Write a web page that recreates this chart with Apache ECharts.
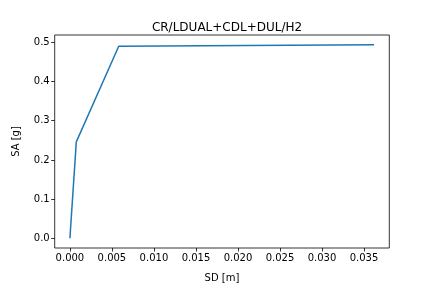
<!DOCTYPE html>
<html>
<head>
<meta charset="utf-8">
<script src="https://cdn.jsdelivr.net/npm/echarts@6/dist/echarts.min.js"></script>
<style>html,body{margin:0;padding:0;background:#fff}#c{width:432px;height:288px}</style>
</head>
<body>
<div id="c"></div>
<script>
var sdValues = [0.0, 0.00076, 0.00581, 0.0362];
var saValues = [0.0, 0.246, 0.490, 0.494];
var xTicks = [0.000, 0.005, 0.010, 0.015, 0.020, 0.025, 0.030, 0.035];
var yTicks = [0.0, 0.1, 0.2, 0.3, 0.4, 0.5];
var titleText = 'CR/LDUAL+CDL+DUL/H2';

var pts = sdValues.map(function (v, i) { return [v, saValues[i]]; });
var xSpan = Math.max.apply(null, sdValues) - Math.min.apply(null, sdValues);
var ySpan = Math.max.apply(null, saValues) - Math.min.apply(null, saValues);
var font = 'DejaVu Sans';
var chart = echarts.init(document.getElementById('c'), null, {renderer: 'canvas'});
chart.setOption({
  animation: false,
  title: {text: titleText, left: 222, top: 17, textAlign: 'center',
    textStyle: {fontFamily: font, fontSize: 12, fontWeight: 'normal', color: '#000'}},
  grid: {left: 54.7, right: 42.7, top: 35, bottom: 36, show: true,
    borderColor: '#000', borderWidth: 0.8, containLabel: false},
  xAxis: {
    type: 'value',
    min: Math.min.apply(null, sdValues) - 0.05 * xSpan,
    max: Math.max.apply(null, sdValues) + 0.05 * xSpan,
    splitLine: {show: false},
    axisLine: {show: false, onZero: false},
    axisTick: {show: true, inside: false, length: 3.5, customValues: xTicks,
      lineStyle: {color: '#000', width: 0.8}},
    axisLabel: {customValues: xTicks, fontFamily: font, fontSize: 10, color: '#000', margin: 5,
      formatter: function (v) { return v.toFixed(3); }},
    name: 'SD [m]', nameLocation: 'middle', nameGap: 25,
    nameTextStyle: {fontFamily: font, fontSize: 10, color: '#000'}
  },
  yAxis: {
    type: 'value',
    min: Math.min.apply(null, saValues) - 0.05 * ySpan,
    max: Math.max.apply(null, saValues) + 0.05 * ySpan,
    splitLine: {show: false},
    axisLine: {show: false, onZero: false},
    axisTick: {show: true, inside: false, length: 3.5, customValues: yTicks,
      lineStyle: {color: '#000', width: 0.8}},
    axisLabel: {customValues: yTicks, fontFamily: font, fontSize: 10, color: '#000', margin: 5,
      formatter: function (v) { return v.toFixed(1); }},
    name: 'SA [g]', nameLocation: 'middle', nameGap: 33, nameRotate: 90,
    nameTextStyle: {fontFamily: font, fontSize: 10, color: '#000'}
  },
  series: [{
    type: 'line', data: pts, showSymbol: false, symbol: 'none',
    lineStyle: {color: '#1f77b4', width: 1.5}, itemStyle: {color: '#1f77b4'}
  }]
});
</script>
</body>
</html>
